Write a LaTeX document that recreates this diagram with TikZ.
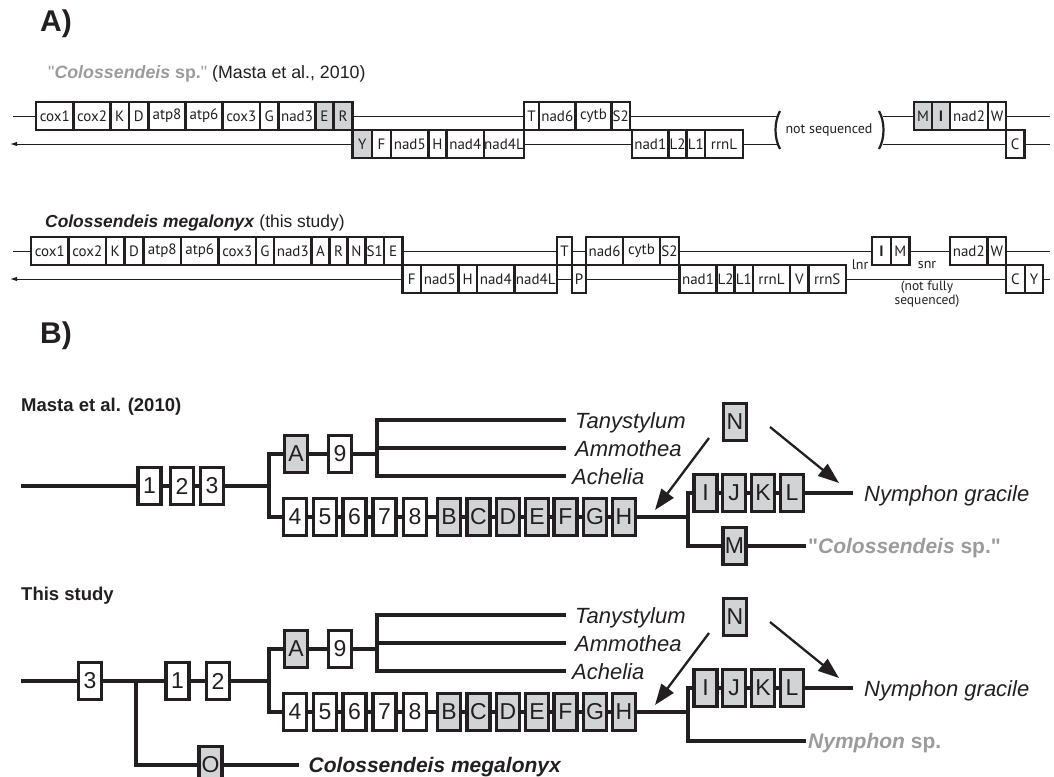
\documentclass[tikz,border=0pt]{standalone}
\usepackage{fontspec}
\setmainfont{Liberation Sans}
\newfontfamily\genefont{PT Sans}
\newfontfamily\qfont{Liberation Sans}[Ligatures=TeXOff]
\usetikzlibrary{arrows.meta}
\definecolor{ink}{RGB}{35,31,32}
\definecolor{gfill}{RGB}{209,211,212}
\definecolor{gtext}{RGB}{155,155,155}
\newcommand\sq{{\qfont\char34}}
\tikzset{
 gbx/.style={draw=ink, line width=2.2pt, fill=white, inner sep=0pt, outer sep=0pt, minimum height=28pt, font=\genefont\fontsize{15}{15}\selectfont, text=ink},
 gg/.style={fill=gfill},
 strand/.style={draw=ink, line width=1pt},
 tbx/.style={draw=ink, line width=3.6pt, fill=white, inner sep=0pt, outer sep=0pt, minimum width=23pt, minimum height=37pt, font=\fontsize{23}{23}\selectfont, text=ink},
 tw/.style={},
 tg/.style={fill=gfill},
 tl/.style={draw=ink, line width=3.5pt, line join=miter},
 tax/.style={anchor=west, inner xsep=9pt, inner ysep=0pt, text height=17pt, text depth=0pt, font=\itshape\fontsize{22}{22}\selectfont, text=ink},
 arr/.style={draw=ink, line width=2.3pt, -{Triangle[length=21pt,width=15pt]}},
 brk/.style={draw=ink, line width=2.2pt},
 small/.style={font=\genefont\fontsize{14}{14}\selectfont, text=ink},
}
\newcommand\gb[6]{\node[gbx,minimum width={#3pt-#2pt},#6] (#1) at ({(#2+#3)/2},#4) {#5};}
\newcommand\treecore[2]{%
 \node[tbx,tg] (#1A) at (296,{454+#2}) {A};
 \node[tbx] (#1nine) at (340,{454+#2}) {9};
 \coordinate (#1v2) at (377,{454+#2});
 \node[tax] (#1tany) at (566,{420+#2}) {Tanystylum};
 \node[tax] (#1ammo) at (566,{448+#2}) {Ammothea};
 \node[tax,inner xsep=6pt] (#1ache) at (566,{476+#2}) {Achelia};
 \draw[tl] (#1A.east) -- (#1nine.west);
 \draw[tl] (#1nine.east) -- (#1v2);
 \draw[tl] (#1tany.west) -| (#1v2) |- (#1ache.west);
 \draw[tl] (#1ammo.west) -- (#1ammo.west -| #1v2);
 \foreach \lab/\xx/\st in {4/295/tw,5/325/tw,6/354.5/tw,7/384.5/tw,8/415/tw,B/449/tg,C/478.5/tg,D/508/tg,E/537/tg,F/565.5/tg,G/595/tg,H/624/tg}
   {\node[tbx,\st] (#1b\lab) at (\xx,{517+#2}) {\lab};}
 \foreach \a/\b in {4/5,5/6,6/7,7/8,8/B,B/C,C/D,D/E,E/F,F/G,G/H}
   {\draw[tl] (#1b\a.east) -- (#1b\b.west);}
 \coordinate (#1v3) at (688,{517+#2});
 \draw[tl] (#1bH.east) -- (#1v3);
 \foreach \lab/\xx in {I/705.5,J/734,K/763,L/792}
   {\node[tbx,tg] (#1b\lab) at (\xx,{493+#2}) {\lab};}
 \foreach \a/\b in {I/J,J/K,K/L}
   {\draw[tl] (#1b\a.east) -- (#1b\b.west);}
 \node[tax,inner xsep=11pt] (#1nyg) at (853,{493+#2}) {Nymphon gracile};
 \draw[tl] (#1bL.east) -- (#1nyg.west);
 \node[tbx,tg] (#1N) at (735,{422+#2}) {N};
 \coordinate (#1as1) at (709,{438+#2});
 \coordinate (#1ae1) at (655,{510+#2});
 \coordinate (#1as2) at (770,{427+#2});
 \coordinate (#1ae2) at (839,{483+#2});
 \draw[arr] (#1as1) -- (#1ae1);
 \draw[arr] (#1as2) -- (#1ae2);
}
\begin{document}
\begin{tikzpicture}[x=1pt,y=-1pt]
\useasboundingbox (0,0) rectangle (1054,776);
% ---------- Part A ----------
\node[anchor=base west, inner sep=0pt, font=\bfseries\fontsize{30}{30}\selectfont, text=ink] (tA) at (40,32) {A)};
\node[anchor=base west, inner sep=0pt, font=\fontsize{17.8}{17.8}\selectfont, text=ink] (tcs) at (48,78) {\textcolor{gtext}{\sq\textbf{\textit{Colossendeis} sp.}\sq} (Masta et al., 2010)};
% row 1 top
\gb{r1cox1}{36}{73.5}{116}{cox1}{}
\gb{r1cox2}{73.5}{110.5}{116}{cox2}{}
\gb{r1K}{110.5}{129}{116}{K}{}
\gb{r1D}{129}{148.5}{116}{D}{}
\gb{r1atp8}{148.5}{185.5}{116}{atp8}{}
\gb{r1atp6}{185.5}{222.5}{116}{atp6}{}
\gb{r1cox3}{222.5}{260}{116}{cox3}{}
\gb{r1G}{260}{278.5}{116}{G}{}
\gb{r1nad3}{278.5}{315.5}{116}{nad3}{}
\gb{r1E}{315.5}{333.5}{116}{E}{gg}
\gb{r1R}{333.5}{352.5}{116}{R}{gg}
% row 1 bottom
\gb{r1Y}{352.5}{372}{144}{Y}{gg}
\gb{r1F}{372}{391}{144}{F}{}
\gb{r1nad5}{391}{428.5}{144}{nad5}{}
\gb{r1H}{428.5}{446.5}{144}{H}{}
\gb{r1nad4}{446.5}{484}{144}{nad4}{}
\gb{r1nad4L}{484}{524}{144}{nad4L}{}
\gb{r1T}{524}{539}{116}{T}{}
\gb{r1nad6}{539}{575.5}{116}{nad6}{}
\gb{r1cytb}{575.5}{611.5}{116}{cytb}{}
\gb{r1S2}{611.5}{630}{116}{S2}{}
\gb{r1nad1}{632}{668.5}{144}{nad1}{}
\gb{r1L2}{668.5}{686.5}{144}{L2}{}
\gb{r1L1}{686.5}{705}{144}{L1}{}
\gb{r1rrnL}{705}{743}{144}{rrnL}{}
\gb{r1M}{914}{932}{116}{M}{gg}
\gb{r1I}{932}{950}{116}{\textbf{I}}{gg}
\gb{r1nad2}{950}{988}{116}{nad2}{}
\gb{r1W}{988}{1006}{116}{W}{}
\gb{r1C}{1006}{1024.5}{144}{C}{}
\node[small] (r1ns) at (829,130) {not sequenced};
\coordinate (r1blt) at (776.5,116); \coordinate (r1blb) at (776.5,144);
\coordinate (r1brt) at (882.5,116); \coordinate (r1brb) at (882.5,144);
\draw[brk] (780,111) .. controls (774,122) and (774,138) .. (780,149);
\draw[brk] (879,111) .. controls (885,122) and (885,138) .. (879,149);
\coordinate (r1s) at (13,116); \coordinate (r1a) at (10,144);
\coordinate (r1et) at (1050,116); \coordinate (r1eb) at (1050,144);
\draw[strand] (r1s) -- (r1cox1.west);
\draw[strand] (r1R.east) -- (r1T.west);
\draw[strand] (r1S2.east) -- (r1blt);
\draw[strand] (r1brt) -- (r1M.west);
\draw[strand] (r1W.east) -- (r1et);
\draw[strand,-{Latex[length=7pt,width=4.5pt]}] (r1Y.west) -- (r1a);
\draw[strand] (r1nad4L.east) -- (r1nad1.west);
\draw[strand] (r1rrnL.east) -- (r1blb);
\draw[strand] (r1brb) -- (r1C.west);
\draw[strand] (r1C.east) -- (r1eb);
% row 2
\node[anchor=base west, inner sep=0pt, font=\fontsize{17.4}{17.4}\selectfont, text=ink] (tcm) at (45,227) {\textbf{\textit{Colossendeis megalonyx}} (this study)};
\gb{r2cox1}{31}{68.5}{251}{cox1}{}
\gb{r2cox2}{68.5}{106}{251}{cox2}{}
\gb{r2K}{106}{124.5}{251}{K}{}
\gb{r2D}{124.5}{143.5}{251}{D}{}
\gb{r2atp8}{143.5}{181}{251}{atp8}{}
\gb{r2atp6}{181}{218.5}{251}{atp6}{}
\gb{r2cox3}{218.5}{256}{251}{cox3}{}
\gb{r2G}{256}{274}{251}{G}{}
\gb{r2nad3}{274}{311.5}{251}{nad3}{}
\gb{r2A}{311.5}{329.5}{251}{A}{}
\gb{r2R}{329.5}{347.5}{251}{R}{}
\gb{r2N}{347.5}{365.5}{251}{N}{}
\gb{r2S1}{365.5}{384}{251}{S1}{}
\gb{r2E}{384}{402.5}{251}{E}{}
\gb{r2F}{402.5}{421}{279}{F}{}
\gb{r2nad5}{421}{458.5}{279}{nad5}{}
\gb{r2H}{458.5}{477}{279}{H}{}
\gb{r2nad4}{477}{514.5}{279}{nad4}{}
\gb{r2nad4L}{514.5}{557}{279}{nad4L}{}
\gb{r2T}{557}{572}{251}{T}{}
\gb{r2P}{572}{586}{279}{P}{}
\gb{r2nad6}{586}{623}{251}{nad6}{}
\gb{r2cytb}{623}{660}{251}{cytb}{}
\gb{r2S2}{660}{679}{251}{S2}{}
\gb{r2nad1}{679.5}{716.5}{279}{nad1}{}
\gb{r2L2}{716.5}{734.5}{279}{L2}{}
\gb{r2L1}{734.5}{753}{279}{L1}{}
\gb{r2rrnL}{753}{790}{279}{rrnL}{}
\gb{r2V}{790}{808.5}{279}{V}{}
\gb{r2rrnS}{808.5}{846}{279}{rrnS}{}
\gb{r2I}{872}{891}{251}{\textbf{I}}{}
\gb{r2M}{891}{909.5}{251}{M}{}
\gb{r2nad2}{950}{987.5}{251}{nad2}{}
\gb{r2W}{987.5}{1006}{251}{W}{}
\gb{r2C}{1006}{1025}{279}{C}{}
\gb{r2Y}{1025}{1043}{279}{Y}{}
\coordinate (r2s) at (13,251); \coordinate (r2a) at (10,279);
\coordinate (r2et) at (1050,251); \coordinate (r2eb) at (1050,279);
\draw[strand] (r2s) -- (r2cox1.west);
\draw[strand] (r2E.east) -- (r2T.west);
\draw[strand] (r2T.east) -- (r2nad6.west);
\draw[strand] (r2S2.east) -- (r2I.west);
\draw[strand] (r2M.east) -- (r2nad2.west);
\draw[strand] (r2W.east) -- (r2et);
\draw[strand,-{Latex[length=7pt,width=4.5pt]}] (r2F.west) -- (r2a);
\draw[strand] (r2nad4L.east) -- (r2P.west);
\draw[strand] (r2P.east) -- (r2nad1.west);
\draw[strand] (r2rrnS.east) -- (r2C.west);
\draw[strand] (r2Y.east) -- (r2eb);
\node[small] (lnr) at (860,265) {lnr};
\node[small] (snr) at (927,265) {snr};
\node[small, font=\genefont\fontsize{13.5}{10.5}\selectfont, align=center, inner sep=0pt] (nfs) at (927,294) {(not fully\\sequenced)};
% ---------- Part B ----------
\node[anchor=base west, inner sep=0pt, font=\bfseries\fontsize{30}{30}\selectfont, text=ink] (tB) at (40,343) {B)};
\node[anchor=base west, inner sep=0pt, font=\bfseries\fontsize{18.5}{18.5}\selectfont, text=ink] (tm) at (21,411) {Masta et al. (2010)};
\node[anchor=base west, inner sep=0pt, font=\bfseries\fontsize{18.5}{18.5}\selectfont, text=ink] (ts) at (21,600) {This study};
% tree 1
\coordinate (p0) at (21,486);
\node[tbx] (p1) at (149.5,486) {1};
\node[tbx] (p2) at (182,486) {2};
\node[tbx] (p3) at (212,486) {3};
\coordinate (pv1) at (269,486);
\draw[tl] (p0) -- (p1.west);
\draw[tl] (p1.east) -- (p2.west);
\draw[tl] (p2.east) -- (p3.west);
\draw[tl] (p3.east) -- (pv1);
\treecore{p}{0}
\draw[tl] (pA.west) -| (pv1) |- (pb4.west);
\node[tbx,tg] (pM) at (734.5,546) {M};
\node[anchor=west, inner xsep=2pt, inner ysep=0pt, text height=15.5pt, text depth=0pt, font=\bfseries\fontsize{21}{21}\selectfont, text=gtext] (pcs) at (806,546) {{\qfont\bfseries\char34}\textit{Colossendeis} sp.{\qfont\bfseries\char34}};
\draw[tl] (pbI.west) -| (pv3) |- (pM.west);
\draw[tl] (pM.east) -- (pcs.west);
% tree 2
\coordinate (q0) at (21,681);
\node[tbx] (q3) at (90,681) {3};
\coordinate (qv0) at (136,681);
\node[tbx] (q1) at (177.5,681) {1};
\node[tbx] (q2) at (218,681) {2};
\coordinate (qv1) at (269,681);
\draw[tl] (q0) -- (q3.west);
\draw[tl] (q3.east) -- (q1.west);
\draw[tl] (q1.east) -- (q2.west);
\draw[tl] (q2.east) -- (qv1);
\node[tbx,tg] (qO) at (210.5,765) {O};
\node[anchor=west, inner xsep=10pt, inner ysep=0pt, text height=15.5pt, text depth=0pt, font=\bfseries\itshape\fontsize{21}{21}\selectfont, text=ink] (qcm) at (298.5,765) {Colossendeis megalonyx};
\draw[tl] (qv0) |- (qO.west);
\draw[tl] (qO.east) -- (qcm.west);
\treecore{q}{195}
\draw[tl] (qA.west) -| (qv1) |- (qb4.west);
\node[anchor=west, inner xsep=2pt, inner ysep=0pt, text height=15.5pt, text depth=0pt, font=\bfseries\fontsize{21}{21}\selectfont, text=gtext] (qns) at (806,741) {\textit{Nymphon} sp.};
\draw[tl] (qbI.west) -| (qv3) |- (qns.west);
\end{tikzpicture}
\end{document}
